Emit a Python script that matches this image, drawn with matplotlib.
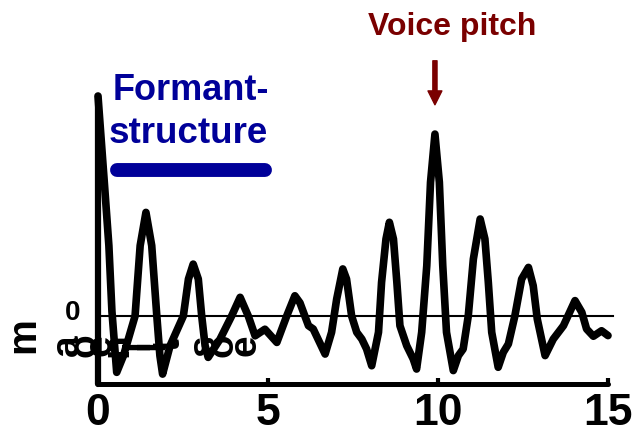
import matplotlib
matplotlib.use("Agg")
import matplotlib.pyplot as plt

plt.rcParams['font.family'] = ['Liberation Sans', 'DejaVu Sans']
plt.rcParams['font.weight'] = 'bold'

# Autocorrelation curve (lag in ms, normalised value)
lag_ms = [0.00, 0.18, 0.32, 0.41, 0.55, 0.75, 1.09, 1.24, 1.41, 1.58, 1.73, 1.82,
          1.90, 2.12, 2.51, 2.66, 2.80, 2.95, 3.05, 3.15, 3.24, 3.59, 3.93, 4.18,
          4.42, 4.62, 4.91, 5.26, 5.55, 5.79, 5.94, 6.19, 6.33, 6.68, 6.87, 7.02,
          7.20, 7.31, 7.46, 7.61, 7.76, 7.90, 8.05, 8.25, 8.34, 8.47, 8.57, 8.69,
          8.79, 8.88, 9.08, 9.27, 9.37, 9.52, 9.67, 9.78, 9.91, 10.04, 10.14, 10.25,
          10.45, 10.60, 10.74, 10.89, 11.04, 11.24, 11.38, 11.48, 11.58, 11.77,
          11.92, 12.07, 12.26, 12.46, 12.66, 12.80, 12.92, 13.15, 13.39, 13.69,
          14.03, 14.23, 14.37, 14.57, 14.81, 15.00]
acf = [1.00, 0.62, 0.32, 0.02, -0.256, -0.18, 0.00, 0.32, 0.471, 0.32, 0.00, -0.18,
       -0.264, -0.135, 0.00, 0.168, 0.236, 0.168, 0.00, -0.135, -0.188, -0.105, 0.00, 0.085,
       0.00, -0.09, -0.06, -0.12, 0.00, 0.092, 0.06, -0.044, -0.059, -0.173, -0.074, 0.077,
       0.214, 0.168, 0.00, -0.074, -0.105, -0.15, -0.226, -0.074, 0.153, 0.35, 0.426, 0.35,
       0.153, -0.044, -0.135, -0.195, -0.241, -0.074, 0.229, 0.608, 0.827, 0.608, 0.229, -0.074,
       -0.248, -0.18, -0.15, 0.00, 0.259, 0.441, 0.35, 0.153, -0.074, -0.233,
       -0.165, -0.127, 0.00, 0.168, 0.221, 0.138, -0.014, -0.18, -0.105, -0.044,
       0.07, 0.017, -0.059, -0.092, -0.067, -0.089]

x_ticks = [0, 5, 10, 15]
x_tick_labels = ['0', '5', '10', '15']

formant_range = [0.56, 4.91]
formant_level = 0.664
pitch_lag = 9.91

fig = plt.figure(figsize=(6.39, 4.39), dpi=100)
ax = fig.add_axes([98/639, (439-385)/439, 510/639, 288/439])
ax.set_xlim(0, 15)
ax.set_ylim(-0.309, 1.0)

for s in ['top', 'right']:
    ax.spines[s].set_visible(False)
ax.spines['left'].set_linewidth(4.5)
ax.spines['bottom'].set_linewidth(3.6)
ax.spines['left'].set_capstyle('round')
ax.spines['bottom'].set_capstyle('round')

ax.set_xticks(x_ticks)
ax.set_xticklabels(x_tick_labels, fontsize=32, fontweight='bold')
ax.tick_params(axis='x', direction='in', length=4, width=3, pad=6)
ax.set_yticks([])

# zero line
ax.plot([0, 15.15], [0, 0], color='black', lw=1.5, clip_on=False, zorder=2)
# curve
ax.plot(lag_ms, acf, color='black', lw=5.5, solid_joinstyle='round',
        solid_capstyle='round', clip_on=False, zorder=3)

# formant structure bar
ax.plot(formant_range, [formant_level, formant_level], color='#000099', lw=10,
        solid_capstyle='round', clip_on=False)
ax.text(0.44, 0.986, 'Formant-', color='#000099', fontsize=26, fontweight='bold',
        ha='left', va='baseline')
ax.text(0.30, 0.79, 'structure', color='#000099', fontsize=26.5, fontweight='bold',
        ha='left', va='baseline')

# voice pitch
ax.text(10.41, 1.28, 'Voice pitch', color='#7a0000', fontsize=23, fontweight='bold',
        ha='center', va='baseline')
ax.annotate('', xy=(pitch_lag, 0.96), xytext=(pitch_lag, 1.16),
            arrowprops=dict(width=3, headwidth=10, headlength=10, color='#7a0000', shrink=0),
            annotation_clip=False)

# y-axis text
ax.text(-0.76, 0.018, '0', fontsize=20, fontweight='bold', ha='center', va='center')
ax.text(-2.2, -0.08, 'm', fontsize=29, fontweight='bold', ha='center', va='center',
        rotation=90)
garble = ['a', 'o', 'e', 'n', 'l', 'l', 't', 's', 'o', 'e']
garble_x = [-0.88, -0.38, 0.06, 0.56, 1.18, 1.62, 2.10, 3.13, 3.65, 4.35]
for ch, gx in zip(garble, garble_x):
    ax.text(gx, -0.127, ch, fontsize=28, fontweight='bold', ha='center', va='center',
            rotation=90, zorder=1)

fig.savefig('out.png', dpi=100)
